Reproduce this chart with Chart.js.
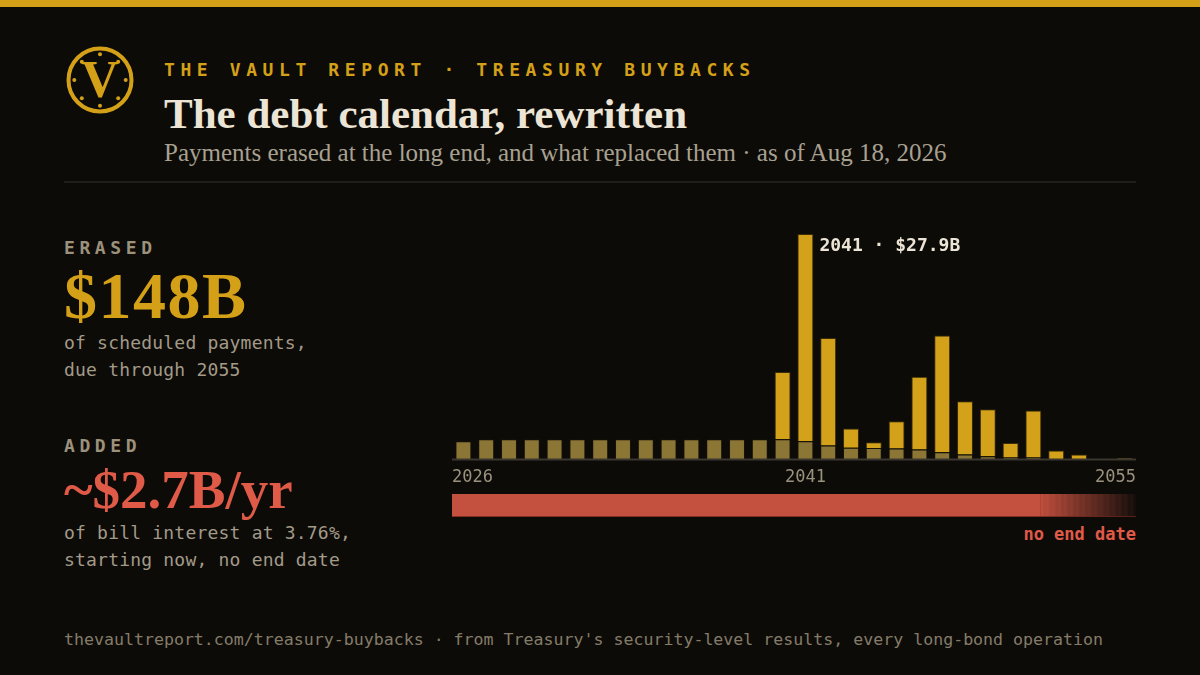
<!DOCTYPE html>
<html>
<head>
<meta charset="utf-8">
<script src="https://cdn.jsdelivr.net/npm/chart.js@4.4.1/dist/chart.umd.min.js"></script>
<style>
  body { margin: 0; width: 1200px; height: 675px; overflow: hidden; position: relative; background: #0c0b08; font-family: "DejaVu Sans Mono", monospace; }
  .abs { position: absolute; white-space: nowrap; }
  .topbar { left: 0; top: 0; width: 1200px; height: 7px; background: #d4a017; }
  .eyebrow { left: 164px; top: 61px; font-size: 18px; line-height: 1; font-weight: bold; letter-spacing: 5.6px; color: #d4a017; }
  .title { left: 164px; top: 92px; font-family: "Liberation Serif", serif; font-weight: bold; font-size: 43px; line-height: 1; color: #ece4d4; }
  .subtitle { left: 164px; top: 140px; font-family: "Liberation Serif", serif; font-size: 25px; line-height: 1; color: #a9a190; }
  .divider { left: 64px; top: 181px; width: 1072px; height: 2px; background: #201e19; }
  .label { left: 64px; font-size: 18px; line-height: 1; font-weight: bold; letter-spacing: 4.6px; color: #9c917b; }
  .big { left: 64px; font-family: "Liberation Serif", serif; font-weight: bold; line-height: 1; }
  .desc { left: 64px; font-size: 18px; line-height: 26.5px; letter-spacing: 0.2px; color: #a39a88; }
  .footer { left: 64px; top: 632px; font-size: 16.6px; line-height: 1; color: #857c68; }
  .noend { right: 64px; top: 526px; font-size: 17px; line-height: 1; font-weight: bold; color: #e05a48; }
  #barsWrap { position: absolute; left: 452px; top: 224px; width: 684px; height: 260px; }
  #bandWrap { position: absolute; left: 452px; top: 494px; width: 684px; height: 23px; }
</style>
</head>
<body>
<div class="abs topbar"></div>

<svg class="abs" style="left:66px;top:46px" width="68" height="68" viewBox="0 0 68 68">
  <circle cx="34" cy="34" r="31.5" fill="none" stroke="#d4a017" stroke-width="4"/>
  <g fill="#d4a017">
    <circle cx="34" cy="8.3" r="2"/>
    <circle cx="34" cy="59.7" r="2"/>
    <circle cx="8.3" cy="34" r="2"/>
    <circle cx="59.7" cy="34" r="2"/>
    <circle cx="15.8" cy="15.8" r="2"/>
    <circle cx="52.2" cy="15.8" r="2"/>
    <circle cx="15.8" cy="52.2" r="2"/>
    <circle cx="52.2" cy="52.2" r="2"/>
  </g>
  <text x="34" y="51" text-anchor="middle" font-family="Liberation Serif" font-weight="bold" font-size="52" fill="#d4a017">V</text>
</svg>

<div class="abs eyebrow">THE VAULT REPORT · TREASURY BUYBACKS</div>
<div class="abs title">The debt calendar, rewritten</div>
<div class="abs subtitle">Payments erased at the long end, and what replaced them · as of Aug 18, 2026</div>
<div class="abs divider"></div>

<div class="abs label" style="top:239px">ERASED</div>
<div class="abs big" style="top:263px;font-size:66px;letter-spacing:1.5px;color:#d4a017">$148B</div>
<div class="abs desc" style="top:330px">of scheduled payments,<br>due through 2055</div>

<div class="abs label" style="top:437px">ADDED</div>
<div class="abs big" style="top:462px;font-size:55px;color:#e05a48">~$2.7B/yr</div>
<div class="abs desc" style="top:520px">of bill interest at 3.76%,<br>starting now, no end date</div>

<div id="barsWrap"><canvas id="bars"></canvas></div>
<div id="bandWrap"><canvas id="band"></canvas></div>
<div class="abs noend">no end date</div>

<div class="abs footer">thevaultreport.com/treasury-buybacks · from Treasury's security-level results, every long-bond operation</div>

<script>
// years on the calendar
const years = [2026, 2027, 2028, 2029, 2030, 2031, 2032, 2033, 2034, 2035,
               2036, 2037, 2038, 2039, 2040, 2041, 2042, 2043, 2044, 2045,
               2046, 2047, 2048, 2049, 2050, 2051, 2052, 2053, 2054, 2055];

// erased coupon payments ($B), the dim part at the bottom
const couponErased = [2.2, 2.45, 2.45, 2.45, 2.45, 2.45, 2.45, 2.45, 2.45, 2.45,
                      2.45, 2.45, 2.45, 2.45, 2.45, 2.2, 1.66, 1.41, 1.37, 1.29,
                      1.17, 0.83, 0.55, 0.33, 0.2, 0.2, 0, 0, 0, 0];

// erased principal ($B), the bright part on top
const principalErased = [0, 0, 0, 0, 0, 0, 0, 0, 0, 0,
                         0, 0, 0, 0, 8.35, 25.7, 13.34, 2.37, 0.7, 3.39,
                         9.03, 14.47, 6.62, 5.84, 1.79, 5.8, 1.04, 0.55, 0, 0.1];

// which years get a label under the axis
const tickYears = [2026, 2041, 2055];

// the added bill interest runs from now, with no end
const addedFrom = 2026;
const addedTo = 2055;

const GOLD = "#d4a11a";
const GOLD_DIM = "#8c7636";
const RED = [196, 80, 63];
const BG = [12, 11, 8];

// baseline, year labels and the peak callout
const barExtras = {
   id: "barExtras",
   afterDraw(chart) {
      const ctx = chart.ctx;
      const area = chart.chartArea;
      const x = chart.scales.x;

      ctx.save();
      ctx.strokeStyle = "#3b3731";
      ctx.lineWidth = 2;
      ctx.beginPath();
      ctx.moveTo(area.left, area.bottom + 0.5);
      ctx.lineTo(area.right, area.bottom + 0.5);
      ctx.stroke();

      ctx.font = "17px 'DejaVu Sans Mono'";
      ctx.fillStyle = "#9b927e";
      ctx.textBaseline = "alphabetic";
      tickYears.forEach(function (yr) {
         const i = years.indexOf(yr);
         let px = x.getPixelForValue(i);
         if (i === 0) {
            ctx.textAlign = "left";
            px = area.left;
         } else if (i === years.length - 1) {
            ctx.textAlign = "right";
            px = area.right;
         } else {
            ctx.textAlign = "center";
         }
         ctx.fillText(String(yr), px, area.bottom + 23);
      });

      // peak year callout
      const totals = years.map((_, i) => couponErased[i] + principalErased[i]);
      const peak = totals.indexOf(Math.max(...totals));
      const bar = chart.getDatasetMeta(1).data[peak];
      ctx.font = "bold 18px 'DejaVu Sans Mono'";
      ctx.fillStyle = "#ece4d4";
      ctx.textAlign = "left";
      ctx.fillText(years[peak] + " · $" + totals[peak].toFixed(1) + "B", bar.x + bar.width / 2 + 6, area.top + 17);
      ctx.restore();
   },
};

new Chart(document.getElementById("bars"), {
   type: "bar",
   data: {
      labels: years,
      datasets: [
         {
            label: "Coupons erased",
            data: couponErased,
            backgroundColor: GOLD_DIM,
            borderColor: "rgba(40, 32, 10, 0.45)",
            borderWidth: 1,
            borderSkipped: "bottom",
            barPercentage: 0.7,
            categoryPercentage: 1,
         },
         {
            label: "Principal erased",
            data: principalErased,
            backgroundColor: GOLD,
            borderColor: "rgba(90, 66, 8, 0.6)",
            borderWidth: 1,
            borderSkipped: "bottom",
            barPercentage: 0.7,
            categoryPercentage: 1,
         },
      ],
   },
   options: {
      responsive: true,
      maintainAspectRatio: false,
      animation: false,
      layout: { padding: { top: 10, bottom: 25, left: 0, right: 0 } },
      scales: {
         x: { stacked: true, display: false },
         y: { stacked: true, display: false, min: 0, max: 27.9 },
      },
      plugins: {
         legend: { display: false },
         tooltip: { enabled: false },
      },
   },
   plugins: [barExtras],
});

// red band: solid, then fading out past the calendar's edge
function bandFill(context) {
   const area = context.chart.chartArea;
   if (!area) return "rgb(196,80,63)";
   const g = context.chart.ctx.createLinearGradient(area.left, 0, area.right, 0);
   const mix = (t) => RED.map((c, k) => Math.round(c * (1 - t) + BG[k] * t));
   g.addColorStop(0, "rgb(" + RED.join(",") + ")");
   g.addColorStop(0.859, "rgb(" + RED.join(",") + ")");
   g.addColorStop(0.8605, "rgb(170,68,54)");
   let n = 0;
   for (let s = 0.862; s <= 1.0001; s += 0.0044) {
      const t = Math.min(1, (s - 0.86) / 0.14);
      const c = mix(Math.min(1, t * 0.92 + (n % 2 ? 0.06 : 0)));
      g.addColorStop(Math.min(1, s), "rgb(" + c.join(",") + ")");
      n++;
   }
   return g;
}

new Chart(document.getElementById("band"), {
   type: "bar",
   data: {
      labels: ["added"],
      datasets: [
         {
            data: [[addedFrom - 0.5, addedTo + 0.5]],
            backgroundColor: bandFill,
            borderColor: "rgba(120, 40, 30, 0.9)",
            borderWidth: { top: 0, left: 0, right: 0, bottom: 1 },
            borderSkipped: false,
            barPercentage: 1,
            categoryPercentage: 1,
         },
      ],
   },
   options: {
      indexAxis: "y",
      responsive: true,
      maintainAspectRatio: false,
      animation: false,
      layout: { padding: 0 },
      scales: {
         x: { type: "linear", display: false, min: addedFrom - 0.5, max: addedTo + 0.5 },
         y: { display: false },
      },
      plugins: {
         legend: { display: false },
         tooltip: { enabled: false },
      },
   },
});
</script>
</body>
</html>
